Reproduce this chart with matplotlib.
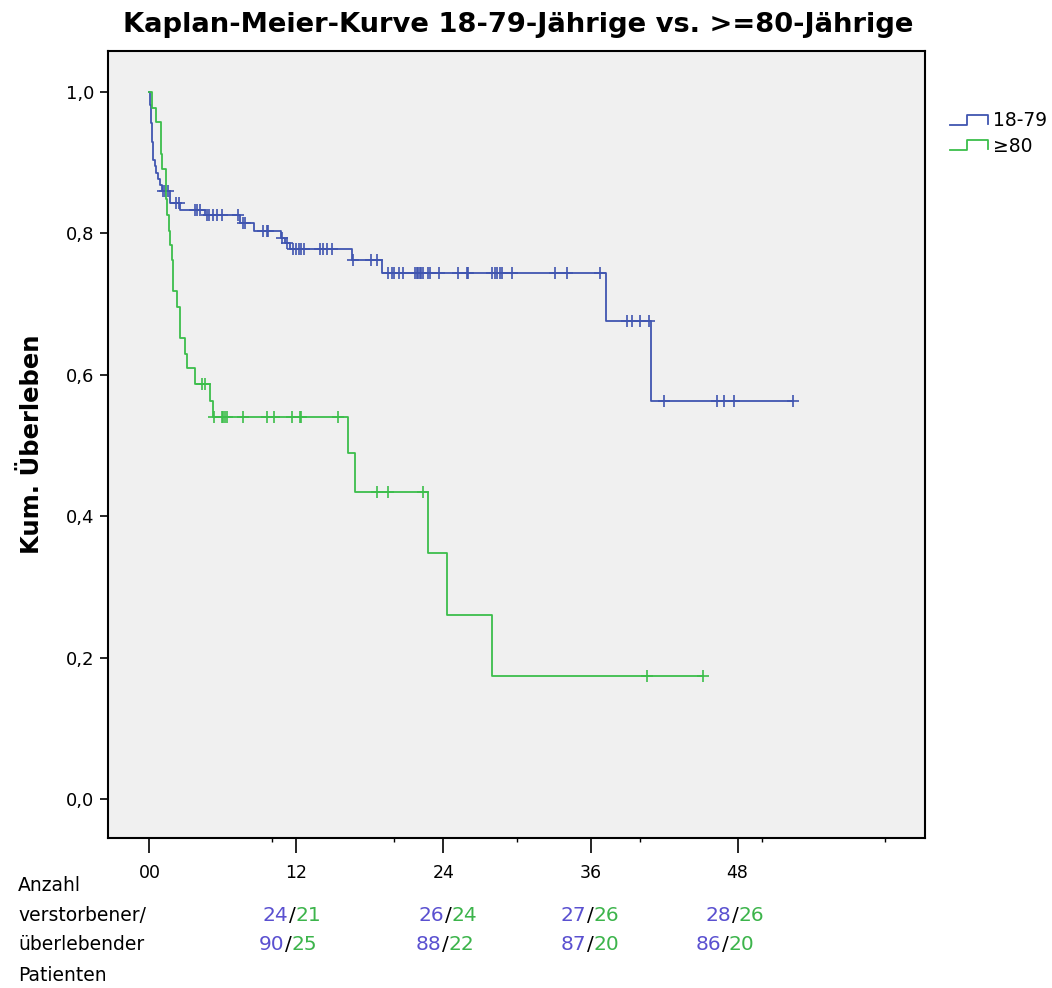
import numpy as np
import matplotlib.pyplot as plt
from matplotlib.legend_handler import HandlerBase
from matplotlib.lines import Line2D

# Kaplan-Meier steps (months, cumulative survival) and censored times
young_t = [0.03, 0.06, 0.09, 0.12, 0.15, 0.18, 0.21, 0.24, 0.27, 0.30, 0.32,
           0.45, 0.50, 0.70, 0.85, 1.0, 1.7, 2.5, 4.5, 7.4, 8.5, 10.7, 11.1,
           11.5, 16.5, 19.0, 37.3, 40.9]
young_s = [0.991, 0.982, 0.974, 0.965, 0.956, 0.947, 0.939, 0.930, 0.921,
           0.912, 0.904, 0.895, 0.886, 0.877, 0.868, 0.860, 0.843, 0.833,
           0.826, 0.815, 0.803, 0.793, 0.786, 0.778, 0.762, 0.744, 0.676,
           0.563]
young_cens = [1.1, 1.3, 1.5, 2.2, 2.4, 3.7, 3.9, 4.1, 4.7, 4.9, 5.2, 5.5, 5.9,
              7.2, 7.6, 7.8, 9.3, 9.6, 9.7, 10.8, 11.2, 11.7, 12.0, 12.2, 12.4,
              12.6, 13.9, 14.2, 14.5, 14.9, 16.6, 18.1, 18.6, 19.5, 19.8, 20.0,
              20.4, 20.7, 21.7, 21.8, 21.9, 22.1, 22.2, 22.3, 22.7, 22.9, 23.6,
              25.2, 25.9, 26.0, 28.0, 28.2, 28.4, 28.6, 28.8, 29.6, 33.1, 34.1,
              36.8, 39.0, 39.4, 40.0, 40.8, 42.0, 46.3, 46.9, 47.7, 52.5]

old_t = [0.2, 0.55, 0.95, 1.05, 1.35, 1.45, 1.6, 1.7, 1.85, 1.9, 2.25, 2.5,
         2.9, 3.05, 3.7, 4.95, 5.2, 16.2, 16.8, 22.7, 24.3, 28.0]
old_s = [0.978, 0.957, 0.913, 0.891, 0.848, 0.826, 0.804, 0.783, 0.762, 0.719,
         0.696, 0.652, 0.630, 0.609, 0.587, 0.563, 0.540, 0.489, 0.434, 0.348,
         0.260, 0.174]
old_cens = [4.3, 4.5, 5.3, 5.9, 6.0, 6.2, 6.3, 7.6, 9.6, 10.2, 11.6, 12.3,
            12.4, 15.4, 18.6, 19.5, 22.3, 40.6, 45.2]

groups = ["18-79", "\u226580"]
colors = ["#4055B0", "#3CBE4B"]

x_ticks = [0, 12, 24, 36, 48]
x_labels = ["00", "12", "24", "36", "48"]
y_ticks = [0.0, 0.2, 0.4, 0.6, 0.8, 1.0]
y_labels = ["0,0", "0,2", "0,4", "0,6", "0,8", "1,0"]

# number at risk table: deceased / surviving per group
table_pos = [12, 24, 36, 48]
dead_young = [24, 26, 27, 28]
dead_old = [21, 24, 26, 26]
alive_young = [90, 88, 87, 86]
alive_old = [25, 22, 20, 20]

W, H = 1052, 988
fig = plt.figure(figsize=(W / 100, H / 100), dpi=100)
ax = fig.add_axes([108 / W, 1 - 838 / H, (925 - 108) / W, (838 - 51) / H])
ax.set_facecolor("#F0F0F0")


def draw_km(times, surv, cens, color, label):
    t = np.concatenate([[0.0], times])
    s = np.concatenate([[1.0], surv])
    end = max(max(cens), t[-1])
    t_full = np.append(t, end)
    s_full = np.append(s, s[-1])
    ax.step(t_full, s_full, where="post", color=color, lw=1.3, label=label)
    idx = np.searchsorted(t, cens, side="right") - 1
    ax.plot(cens, s[idx], ls="none", marker="+", ms=9, mew=1.2, color=color)


draw_km(young_t, young_s, young_cens, colors[0], groups[0])
draw_km(old_t, old_s, old_cens, colors[1], groups[1])

ax.set_xlim(-3.38, 63.3)
ax.set_ylim(-0.055, 1.058)
ax.set_xticks(x_ticks)
ax.set_xticklabels(x_labels, fontsize=12.5)
ax.set_xticks(np.arange(10, 61, 10), minor=True)
ax.set_yticks(y_ticks)
ax.set_yticklabels(y_labels, fontsize=13)
ax.tick_params(axis="x", which="major", length=11, width=1.2, pad=8)
ax.tick_params(axis="x", which="minor", length=3, width=1.0)
ax.tick_params(axis="y", length=6, width=1.2, pad=4)
for sp in ax.spines.values():
    sp.set_linewidth(1.5)

ax.set_ylabel("Kum. \u00dcberleben", fontsize=17.5, fontweight="bold")
ax.yaxis.set_label_coords((44 - 108) / (925 - 108), 0.5)
fig.text(518 / W, 1 - 25 / H, "Kaplan-Meier-Kurve 18-79-J\u00e4hrige vs. >=80-J\u00e4hrige",
         ha="center", va="center", fontsize=19.7, fontweight="bold")


class StepHandler(HandlerBase):
    def create_artists(self, legend, orig_handle, xdescent, ydescent,
                       width, height, fontsize, trans):
        x0, y0 = -xdescent, -ydescent + height * 0.1
        h = height * 0.75
        xs = [x0, x0 + 0.45 * width, x0 + 0.45 * width, x0 + width, x0 + width]
        ys = [y0, y0, y0 + h, y0 + h, y0 + 0.1 * h]
        line = Line2D(xs, ys, color=orig_handle.get_color(), lw=1.3,
                      transform=trans)
        return [line]


handles = [Line2D([], [], color=c) for c in colors]
fig.legend(handles, groups, loc="upper left",
           bbox_to_anchor=(950 / W, 1 - 111 / H), frameon=False,
           fontsize=13.5, handlelength=2.0, handletextpad=0.3,
           labelspacing=0.35, borderpad=0, borderaxespad=0,
           handler_map={Line2D: StepHandler()})

# risk table under the axis
rows_left = ["Anzahl", "verstorbener/", "\u00fcberlebender", "Patienten"]
for i, txt in enumerate(rows_left):
    fig.text(18 / W, 1 - (885 + 30 * i) / H, txt, ha="left", va="center",
             fontsize=13.5)

num_blue = "#5A50D0"
num_green = "#3CB44B"
slash_px = [[292, 448, 590, 735], [288, 445, 590, 725]]
for r, (blue_vals, green_vals) in enumerate([(dead_young, dead_old),
                                              (alive_young, alive_old)]):
    y = 1 - (915 + 30 * r) / H
    for j in range(len(table_pos)):
        xc = slash_px[r][j] / W
        fig.text(xc, y, "/", ha="center", va="center", fontsize=14.5)
        fig.text(xc - 3.5 / W, y, str(blue_vals[j]), ha="right", va="center",
                 fontsize=14.5, color=num_blue)
        fig.text(xc + 3.5 / W, y, str(green_vals[j]), ha="left", va="center",
                 fontsize=14.5, color=num_green)

fig.savefig("out.png", dpi=100)
